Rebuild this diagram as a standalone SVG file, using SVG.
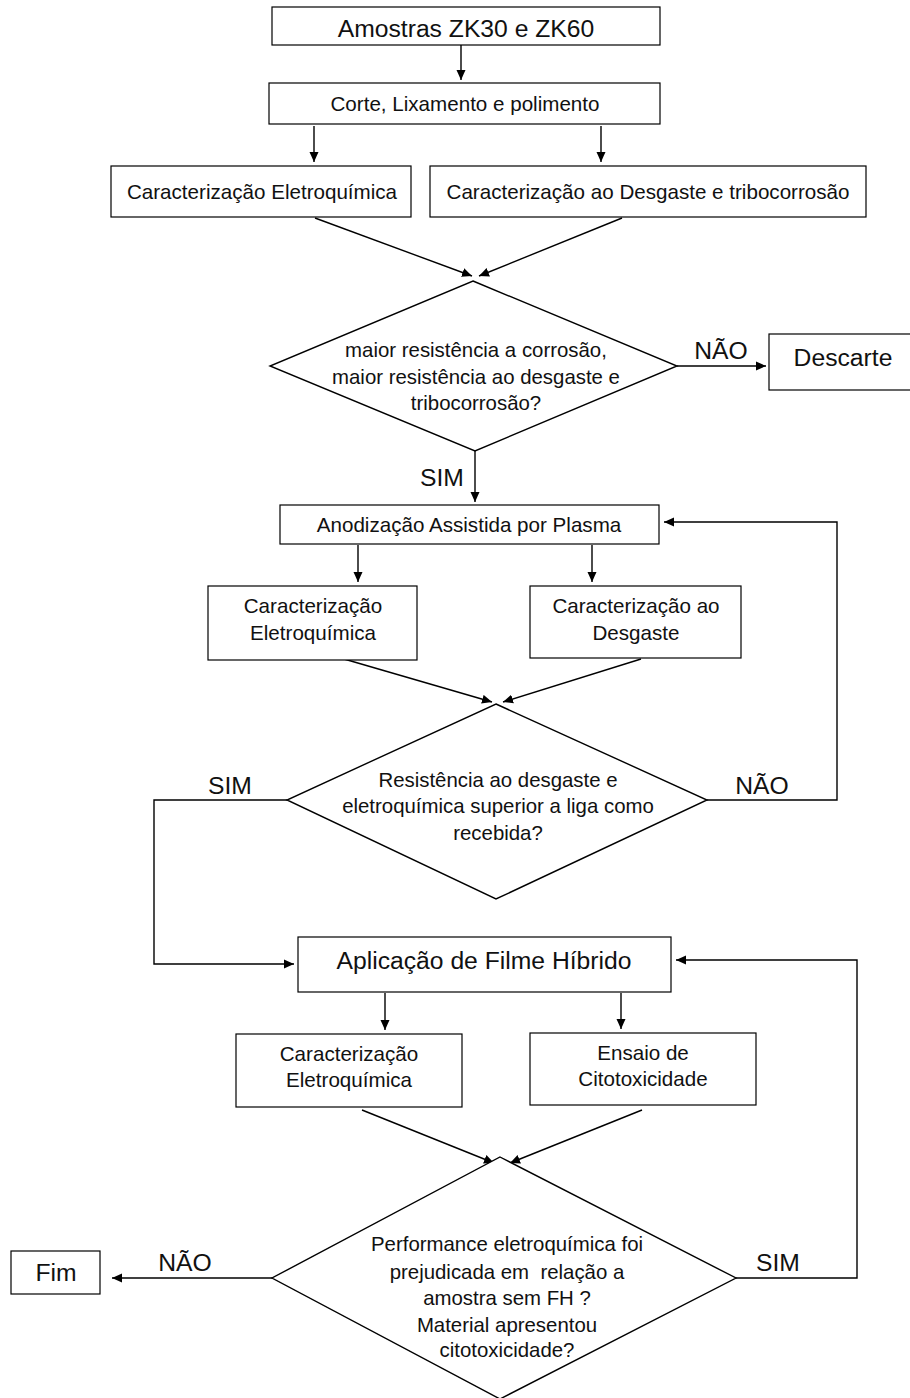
<svg xmlns="http://www.w3.org/2000/svg" width="910" height="1398" viewBox="0 0 910 1398">
<style>
.box{fill:#fff;stroke:#000;stroke-width:1.2}
.dia{fill:#fff;stroke:#000;stroke-width:1.4}
.c{fill:none;stroke:#000;stroke-width:1.4}
text{font-family:"Liberation Sans",Arial,sans-serif;fill:#111;text-anchor:middle}
.t18{font-size:20.6px}
.t17{font-size:20.4px}
.t22{font-size:24.7px}
.lab{font-size:24.7px}
</style>
<defs>
<marker id="ah" viewBox="0 0 10 10" refX="10" refY="5" markerWidth="10" markerHeight="10" markerUnits="userSpaceOnUse" orient="auto">
<path d="M0,0.5 L10,5 L0,9.5 z" fill="#000"/>
</marker>
</defs>
<rect width="910" height="1398" fill="#fff"/>

<g id="connectors">
<line class="c" x1="461" y1="45" x2="461" y2="80" marker-end="url(#ah)"/>
<line class="c" x1="314" y1="126" x2="314" y2="162" marker-end="url(#ah)"/>
<line class="c" x1="601" y1="126" x2="601" y2="162" marker-end="url(#ah)"/>
<line class="c" x1="315" y1="218" x2="472" y2="276" marker-end="url(#ah)"/>
<line class="c" x1="622" y1="218" x2="479" y2="276" marker-end="url(#ah)"/>
<line class="c" x1="677" y1="366" x2="766" y2="366" marker-end="url(#ah)"/>
<line class="c" x1="475" y1="451" x2="475" y2="502" marker-end="url(#ah)"/>
<line class="c" x1="358" y1="545" x2="358" y2="582" marker-end="url(#ah)"/>
<line class="c" x1="592" y1="545" x2="592" y2="582" marker-end="url(#ah)"/>
<line class="c" x1="344" y1="659" x2="492" y2="702" marker-end="url(#ah)"/>
<line class="c" x1="641" y1="659" x2="503" y2="702" marker-end="url(#ah)"/>
<polyline class="c" points="707,800 837,800 837,522 664,522" marker-end="url(#ah)"/>
<polyline class="c" points="287,800 154,800 154,964 294,964" marker-end="url(#ah)"/>
<line class="c" x1="385" y1="993" x2="385" y2="1030" marker-end="url(#ah)"/>
<line class="c" x1="621" y1="993" x2="621" y2="1029" marker-end="url(#ah)"/>
<line class="c" x1="362" y1="1110" x2="494" y2="1163" marker-end="url(#ah)"/>
<line class="c" x1="642" y1="1110" x2="510" y2="1163" marker-end="url(#ah)"/>
<polyline class="c" points="736,1278 857,1278 857,960 676,960" marker-end="url(#ah)"/>
<line class="c" x1="272" y1="1278" x2="112" y2="1278" marker-end="url(#ah)"/>
<text class="lab" x="721" y="359">NÃO</text>
<text class="lab" x="442" y="486">SIM</text>
<text class="lab" x="230" y="794">SIM</text>
<text class="lab" x="762" y="794">NÃO</text>
<text class="lab" x="185" y="1271">NÃO</text>
<text class="lab" x="778" y="1271">SIM</text>
</g>

<g id="n1">
<rect class="box" x="272" y="7" width="388" height="38"/>
<text class="t22" x="466" y="37">Amostras ZK30 e ZK60</text>
</g>
<g id="n2">
<rect class="box" x="269" y="83" width="391" height="41"/>
<text class="t18" x="465" y="111">Corte, Lixamento e polimento</text>
</g>
<g id="n3">
<rect class="box" x="111" y="166" width="300" height="51"/>
<text class="t18" x="262" y="199">Caracterização Eletroquímica</text>
</g>
<g id="n4">
<rect class="box" x="430" y="166" width="436" height="51"/>
<text class="t18" x="648" y="199">Caracterização ao Desgaste e tribocorrosão</text>
</g>
<g id="d1">
<polygon class="dia" points="473,281 677,366 475,451 270,366"/>
<text class="t17" x="476" y="357">maior resistência a corrosão,</text>
<text class="t17" x="476" y="384">maior resistência ao desgaste e</text>
<text class="t17" x="476" y="410">tribocorrosão?</text>
</g>
<g id="n5">
<rect class="box" x="769" y="334" width="145" height="56"/>
<text class="t22" x="843" y="366">Descarte</text>
</g>
<g id="n6">
<rect class="box" x="280" y="505" width="379" height="39"/>
<text class="t18" x="469" y="532">Anodização Assistida por Plasma</text>
</g>
<g id="n7">
<rect class="box" x="208" y="586" width="209" height="74"/>
<text class="t18" x="313" y="613">Caracterização</text>
<text class="t18" x="313" y="640">Eletroquímica</text>
</g>
<g id="n8">
<rect class="box" x="530" y="586" width="211" height="72"/>
<text class="t18" x="636" y="613">Caracterização ao</text>
<text class="t18" x="636" y="640">Desgaste</text>
</g>
<g id="d2">
<polygon class="dia" points="496,704 707,800 496,899 287,800"/>
<text class="t17" x="498" y="787">Resistência ao desgaste e</text>
<text class="t17" x="498" y="813">eletroquímica superior a liga como</text>
<text class="t17" x="498" y="840">recebida?</text>
</g>
<g id="n9">
<rect class="box" x="298" y="937" width="373" height="55"/>
<text class="t22" x="484" y="969">Aplicação de Filme Híbrido</text>
</g>
<g id="n10">
<rect class="box" x="236" y="1034" width="226" height="73"/>
<text class="t18" x="349" y="1061">Caracterização</text>
<text class="t18" x="349" y="1087">Eletroquímica</text>
</g>
<g id="n11">
<rect class="box" x="530" y="1033" width="226" height="72"/>
<text class="t18" x="643" y="1060">Ensaio de</text>
<text class="t18" x="643" y="1086">Citotoxicidade</text>
</g>
<g id="d3">
<polygon class="dia" points="500,1157 736,1278 500,1399 272,1278"/>
<text class="t17" x="507" y="1251">Performance eletroquímica foi</text>
<text class="t17" x="507" y="1279" xml:space="preserve">prejudicada em  relação a</text>
<text class="t17" x="507" y="1305">amostra sem FH ?</text>
<text class="t17" x="507" y="1332">Material apresentou</text>
<text class="t17" x="507" y="1357">citotoxicidade?</text>
</g>
<g id="n12">
<rect class="box" x="11" y="1251" width="89" height="43"/>
<text class="t22" x="56" y="1281">Fim</text>
</g>
</svg>
